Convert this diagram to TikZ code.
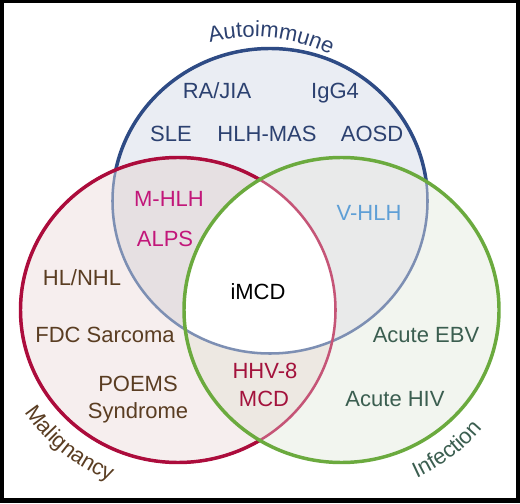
\documentclass[tikz,border=0pt]{standalone}
\usepackage{fontspec}
\setmainfont{Liberation Sans}
\usetikzlibrary{decorations.text}
\definecolor{bline}{HTML}{2E4B85}
\definecolor{rline}{HTML}{AC0C3C}
\definecolor{gline}{HTML}{6BAA3E}
\definecolor{bfill}{HTML}{EAEDF3}
\definecolor{rfill}{HTML}{F6EEEE}
\definecolor{gfill}{HTML}{F2F5EF}
\definecolor{rbfill}{HTML}{E6E0E2}
\definecolor{bgfill}{HTML}{E9EAEA}
\definecolor{rgfill}{HTML}{EDE8E2}
\definecolor{tnavy}{HTML}{2C4170}
\definecolor{tmag}{HTML}{C2177A}
\definecolor{tsky}{HTML}{5E9FD6}
\definecolor{tbrown}{HTML}{5A3D22}
\definecolor{tcrim}{HTML}{A3123C}
\definecolor{tgreen}{HTML}{3B5E50}
\newcommand\labfont{\fontsize{16.5pt}{20pt}\selectfont}
\begin{document}
\begin{tikzpicture}[x=0.75pt,y=0.75pt,
  rr/.style={x radius=157.5, y radius=152.5},
  lbl/.style={font=\labfont, anchor=base, inner sep=0pt},
  outer/.style={line width=2.6pt},
  inner/.style={line width=1.9pt}]
\useasboundingbox (0,0) rectangle (520,503);
\fill[black] (0,0) rectangle (520,503);
\fill[white] (4,5) rectangle (516,500);
\coordinate (cb) at (270,302);
\coordinate (cr) at (178,193);
\coordinate (cg) at (341.5,193);
% fills
\fill[rfill] (cr) ellipse[rr];
\fill[gfill] (cg) ellipse[rr];
\fill[bfill] (cb) ellipse[rr];
\begin{scope}
  \clip (cr) ellipse[rr];
  \fill[rbfill] (cb) ellipse[rr];
  \fill[rgfill] (cg) ellipse[rr];
\end{scope}
\begin{scope}
  \clip (cb) ellipse[rr];
  \fill[bgfill] (cg) ellipse[rr];
  \clip (cr) ellipse[rr];
  \fill[white] (cg) ellipse[rr];
\end{scope}
% outlines
\draw[bline!62!white, inner] (cb) ellipse[rr];
\begin{scope}
  \clip (0,0) -- (0,503) -- (520,503) -- (520,0) -- cycle (cr) ellipse[rr];
  \clip (0,0) -- (0,503) -- (520,503) -- (520,0) -- cycle (cg) ellipse[rr];
  \draw[bline, outer] (cb) ellipse[rr];
\end{scope}
\draw[rline!70!white, inner] (cr) ellipse[rr];
\begin{scope}
  \clip (0,0) -- (0,503) -- (520,503) -- (520,0) -- cycle (cg) ellipse[rr];
  \draw[rline, outer] (cr) ellipse[rr];
\end{scope}
\draw[gline, outer] (cg) ellipse[rr];
% curved titles
\path[decorate, decoration={text along path, text align=center,
  text={|\labfont\color{tnavy}|Autoimmune}}]
  ([shift={(253,291)}]130:175) arc[start angle=130, end angle=38, radius=175];
\path[decorate, decoration={text along path, text align=center,
  text={|\labfont\color{tbrown}|Malignancy}}]
  ([shift={(178,193)}]191:184) arc[start angle=191, end angle=271, radius=184];
\path[decorate, decoration={text along path, text align=center,
  text={|\labfont\color{tgreen}|Infection}}]
  ([shift={(341.5,193)}]267:184) arc[start angle=267, end angle=347, radius=184];
% labels
\node[lbl, text=tnavy] (rajia) at (217,404.5) {RA/JIA};
\node[lbl, text=tnavy] (igg) at (335,404.5) {IgG4};
\node[lbl, text=tnavy] (sle) at (171,361) {SLE};
\node[lbl, text=tnavy] (hlhmas) at (267,361) {HLH-MAS};
\node[lbl, text=tnavy] (aosd) at (372,361) {AOSD};
\node[lbl, text=tmag] (mhlh) at (169,296.3) {M-HLH};
\node[lbl, text=tmag] (alps) at (165,256) {ALPS};
\node[lbl, text=tsky] (vhlh) at (369,282) {V-HLH};
\node[lbl, text=tbrown] (hlnhl) at (82,217) {HL/NHL};
\node[lbl, text=black] (imcd) at (258,203) {iMCD};
\node[lbl, text=tbrown] (fdc) at (105,161) {FDC Sarcoma};
\node[lbl, text=tcrim] (hhv) at (265,125) {HHV-8};
\node[lbl, text=tcrim] (mcd) at (264,97) {MCD};
\node[lbl, text=tbrown] (poems) at (138,111.3) {POEMS};
\node[lbl, text=tbrown] (synd) at (138,85) {Syndrome};
\node[lbl, text=tgreen] (ebv) at (426,160.3) {Acute EBV};
\node[lbl, text=tgreen] (hiv) at (395,96.3) {Acute HIV};
\end{tikzpicture}
\end{document}
